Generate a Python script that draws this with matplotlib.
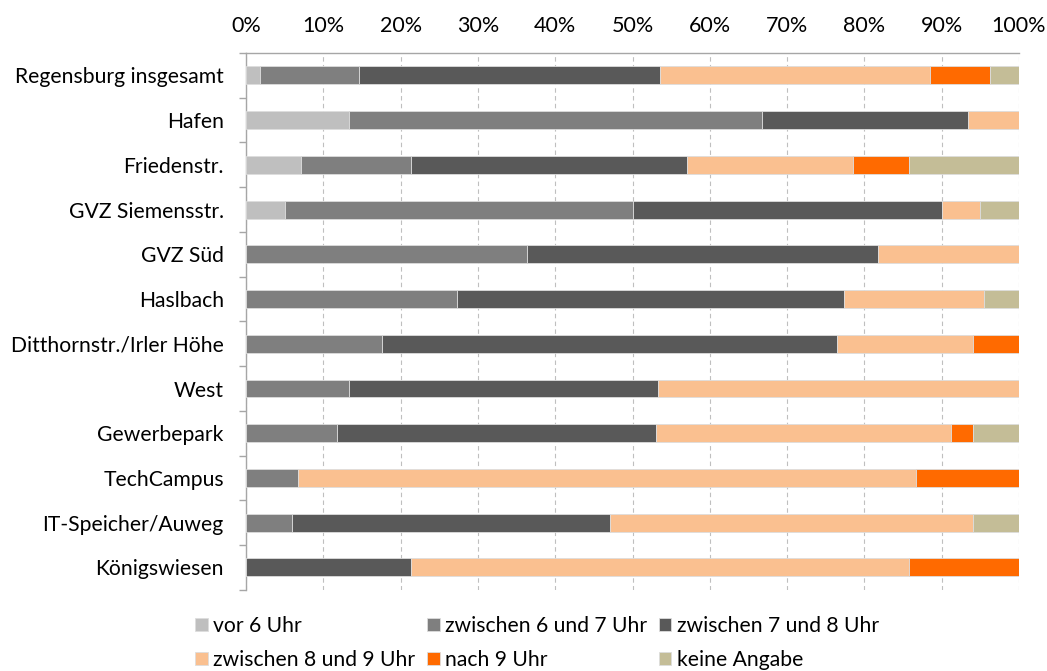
import numpy as np
import matplotlib
matplotlib.use("Agg")
import matplotlib.pyplot as plt

plt.rcParams['font.family'] = ['Lato', 'DejaVu Sans']

# Ankunftszeit nach Standort (Anteile in %)
standorte = ["Regensburg insgesamt", "Hafen", "Friedenstr.", "GVZ Siemensstr.",
             "GVZ Süd", "Haslbach", "Ditthornstr./Irler Höhe", "West",
             "Gewerbepark", "TechCampus", "IT-Speicher/Auweg", "Königswiesen"]

vor_6 = [1.8, 13.3, 7.1, 5.0, 0, 0, 0, 0, 0, 0, 0, 0]
zw_6_7 = [12.8, 53.4, 14.3, 45.0, 36.4, 27.3, 17.6, 13.3, 11.8, 6.7, 5.9, 0]
zw_7_8 = [39.0, 26.7, 35.7, 40.0, 45.4, 50.0, 58.8, 40.0, 41.2, 0, 41.2, 21.4]
zw_8_9 = [34.9, 6.6, 21.4, 5.0, 18.2, 18.2, 17.7, 46.7, 38.2, 80.0, 47.0, 64.3]
nach_9 = [7.7, 0, 7.2, 0, 0, 0, 5.9, 0, 2.9, 13.3, 0, 14.3]
keine_angabe = [3.8, 0, 14.3, 5.0, 0, 4.5, 0, 0, 5.9, 0, 5.9, 0]

serien = ["vor 6 Uhr", "zwischen 6 und 7 Uhr", "zwischen 7 und 8 Uhr",
          "zwischen 8 und 9 Uhr", "nach 9 Uhr", "keine Angabe"]
farben = ["#BFBFBF", "#7F7F7F", "#595959", "#FAC090", "#FF6A00", "#C4BD97"]

werte = [vor_6, zw_6_7, zw_7_8, zw_8_9, nach_9, keine_angabe]

fig = plt.figure(figsize=(10.47, 6.71), dpi=100)
ax = fig.add_axes([0.235, 0.121, 0.7383, 0.800])

y = np.arange(len(standorte))
links = np.zeros(len(standorte))
handles = []
for name, w, c in zip(serien, werte, farben):
    w = np.array(w)
    h = ax.barh(y, w, left=links, height=0.4, color=c, edgecolor="#DDDDDD",
                linewidth=0.6, label=name, zorder=3)
    handles.append(h)
    links += w

ax.set_xlim(0, 100)
ax.set_ylim(len(standorte) - 0.5, -0.5)
ax.xaxis.tick_top()
ax.set_xticks(np.arange(0, 101, 10))
ax.set_xticklabels([f"{v}%" for v in range(0, 101, 10)])
ax.tick_params(axis="x", length=0, pad=12, labelsize=15.5)
ax.set_yticks(y)
ax.set_yticklabels(standorte)
ax.tick_params(axis="y", which="major", length=0, pad=16, labelsize=15.2)
ax.set_yticks(np.arange(-0.5, len(standorte)), minor=True)
ax.tick_params(axis="y", which="minor", length=5, color="#A6A6A6", width=1)

ax.grid(axis="x", linestyle=(0, (4, 3)), color="#BFBFBF", linewidth=0.8, zorder=0)
for s in ["right", "bottom"]:
    ax.spines[s].set_visible(False)
for s in ["left", "top"]:
    ax.spines[s].set_color("#A6A6A6")
    ax.spines[s].set_linewidth(1)

# Legende zeilenweise wie im Original
order = [0, 3, 1, 4, 2, 5]
fig.legend([handles[i] for i in order], [serien[i] for i in order],
           loc="upper left", bbox_to_anchor=(0.1865, 0.082), ncol=3,
           frameon=False, fontsize=15.2, handlelength=0.6, handleheight=0.6,
           handletextpad=0.25, columnspacing=0.55, labelspacing=0.65,
           borderaxespad=0, borderpad=0)

fig.savefig("out.png", dpi=100)
